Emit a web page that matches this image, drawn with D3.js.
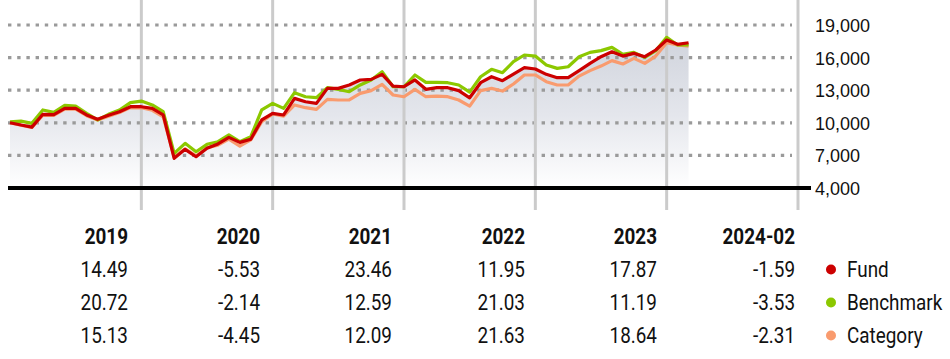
<!DOCTYPE html>
<html>
<head>
<meta charset="utf-8">
<script src="https://cdn.jsdelivr.net/npm/d3@7"></script>
<style>
  html, body { margin: 0; padding: 0; background: #fff; }
  svg { display: block; }
  .tbl { font-family: Roboto, "Liberation Sans", sans-serif; }
</style>
</head>
<body>
<svg id="chart" width="950" height="359"></svg>
<script>
// ---- data ----
const fund = [10000, 9800, 9600, 10780, 10750, 11330, 11330, 10720, 10320, 10690, 11020, 11480, 11480,
  11330, 10720, 6730, 7560, 6880, 7650, 8050, 8660, 8200, 8480, 10260, 10870,
  10720, 12250, 11940, 11790, 13170, 13170, 13480, 13940, 14000, 14460, 13380, 13320,
  13940, 13080, 13230, 13230, 12960, 12300, 13690, 14240, 13880, 14490, 15070, 14950,
  14460, 14150, 14150, 14800, 15470, 16080, 16540, 16140, 16390, 16080, 16700, 17620,
  17220, 17370];
const benchmark = [10080, 10160, 9950, 11180, 10960, 11600, 11540, 10870, 10260, 10780, 11180, 11850, 12000,
  11640, 11020, 7190, 8110, 7340, 8020, 8260, 8880, 8260, 8720, 11180, 11790,
  11330, 12770, 12400, 12310, 13230, 13080, 12860, 13480, 13940, 14700, 13320, 13320,
  14400, 13720, 13720, 13690, 13480, 12820, 14240, 14920, 14610, 15620, 16240, 16140,
  15320, 15010, 15160, 16080, 16480, 16640, 16940, 16300, 16480, 16020, 16640, 17860,
  17160, 17160];
const category = [10000, 9780, 9580, 10700, 10680, 11250, 11250, 10650, 10250, 10600, 10950, 11400, 11380,
  11150, 10550, 6850, 7600, 6950, 7700, 7950, 8500, 7860, 8420, 10100, 10810,
  10620, 11640, 11390, 11240, 12160, 12100, 12100, 12710, 12960, 13540, 12560, 12400,
  13080, 12400, 12460, 12400, 12100, 11540, 12960, 13170, 12920, 13570, 14400, 14400,
  13780, 13480, 13480, 14300, 14800, 15220, 15720, 15410, 15930, 15470, 16140, 17370,
  17160, 17060];
const yTicks = [4000, 7000, 10000, 13000, 16000, 19000];
const yearEnds = [12, 24, 36, 48, 60, 72];        // month index of each year end
const columns = ["2019", "2020", "2021", "2022", "2023", "2024-02"];
const fundReturns = ["14.49", "-5.53", "23.46", "11.95", "17.87", "-1.59"];
const benchReturns = ["20.72", "-2.14", "12.59", "21.03", "11.19", "-3.53"];
const catReturns = ["15.13", "-4.45", "12.09", "21.63", "18.64", "-2.31"];
const seriesNames = ["Fund", "Benchmark", "Category"];
const colors = ["#cc0000", "#8cc800", "#f99b6e"];

// ---- drawing ----
const svg = d3.select("#chart");
const x = d3.scaleLinear().domain([0, 72]).range([10, 798]);
const y = d3.scaleLinear().domain([4000, 19000]).range([188, 25]);

const defs = svg.append("defs");
const grad = defs.append("linearGradient").attr("id", "areaGrad")
  .attr("gradientUnits", "userSpaceOnUse").attr("x1", 0).attr("x2", 0)
  .attr("y1", y(19000)).attr("y2", y(4000));
grad.append("stop").attr("offset", "0%").attr("stop-color", "#cdd1da");
grad.append("stop").attr("offset", "55%").attr("stop-color", "#e4e6ec");
grad.append("stop").attr("offset", "100%").attr("stop-color", "#ffffff");

// area under fund
const area = d3.area().x((d, i) => x(i)).y0(y(4000)).y1(d => y(d));
svg.append("path").datum(fund).attr("d", area).attr("fill", "url(#areaGrad)");

// dotted horizontal gridlines
svg.append("g").selectAll("line").data(yTicks.filter(t => t > 4000)).join("line")
  .attr("x1", 8).attr("x2", 792)
  .attr("y1", d => y(d)).attr("y2", d => y(d))
  .attr("stroke", "#9a9a9a").attr("stroke-width", 3.2)
  .attr("stroke-dasharray", "3.4,5.8");

// vertical year lines
svg.append("g").selectAll("line").data(yearEnds).join("line")
  .attr("x1", d => x(d)).attr("x2", d => x(d))
  .attr("y1", 0).attr("y2", 210)
  .attr("stroke", "#cbcbcb").attr("stroke-width", 3);

// lines
const line = d3.line().x((d, i) => x(i)).y(d => y(d));
[[category, colors[2]], [benchmark, colors[1]], [fund, colors[0]]].forEach(([s, c]) => {
  svg.append("path").datum(s).attr("d", line).attr("fill", "none")
    .attr("stroke", c).attr("stroke-width", 3.2).attr("stroke-linejoin", "round");
});

// baseline
svg.append("line").attr("x1", 8).attr("x2", 811).attr("y1", y(4000)).attr("y2", y(4000))
  .attr("stroke", "#000").attr("stroke-width", 4);

// y axis labels (right)
const yAxis = d3.axisRight(y).tickValues(yTicks).tickSize(0).tickPadding(0)
  .tickFormat(d3.format(","));
const ga = svg.append("g").attr("transform", "translate(815,0)").call(yAxis);
ga.select(".domain").remove();
ga.selectAll("text").attr("font-family", "'Liberation Sans', Arial, sans-serif")
  .attr("font-size", 18).attr("fill", "#111").attr("dy", "0.36em");

// table (condensed look via horizontal scaling)
const colX = i => [128, 260, 392, 525, 657, 795][i];
const tbl = svg.append("g").attr("class", "tbl").attr("fill", "#111").attr("font-size", 22.5);
tbl.selectAll("text.h").data(columns).join("text").attr("class", "h")
  .attr("transform", (d, i) => `translate(${colX(i)},244) scale(0.84,1)`)
  .attr("text-anchor", "end").attr("font-weight", "bold").text(d => d);
const rows = [fundReturns, benchReturns, catReturns];
const rowY = [277, 310, 343];
rows.forEach((r, ri) => {
  tbl.selectAll("text.r" + ri).data(r).join("text").attr("class", "r" + ri)
    .attr("transform", (d, i) => `translate(${colX(i)},${rowY[ri]}) scale(0.84,1)`)
    .attr("text-anchor", "end").text(d => d);
  tbl.append("circle").attr("cx", 831).attr("cy", rowY[ri] - 7.5).attr("r", 5).attr("fill", colors[ri]);
  tbl.append("text").attr("transform", `translate(847,${rowY[ri]}) scale(0.84,1)`).text(seriesNames[ri]);
});
</script>
</body>
</html>
